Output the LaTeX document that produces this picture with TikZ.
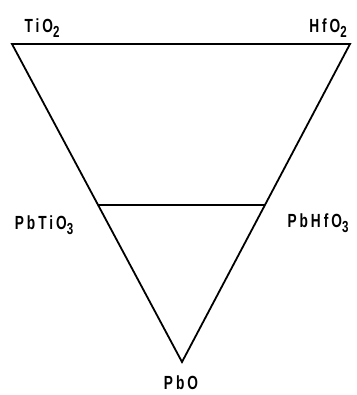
\documentclass[tikz,border=0pt]{standalone}
\usepackage{fontspec}
\usepackage{graphicx}
\setsansfont{Liberation Sans}[LetterSpace=22]
\usetikzlibrary{calc}
\tikzset{
  every picture/.style={
    every path/.style={line width=1.8pt},
  }
}
\newcommand{\chem}[1]{\scalebox{0.72}[1]{\sffamily\bfseries\fontsize{19}{19}\selectfont #1}}
\newcommand{\sub}[1]{\raisebox{-5pt}{\fontsize{16}{16}\selectfont #1}}
\tikzset{lbl/.style = {inner sep=0}}

\begin{document}
\begin{tikzpicture}[x=1pt,y=-1pt]
        \useasboundingbox (0,0) rectangle (356,395);
        \coordinate (vt) at (12,44);
        \coordinate (vh) at (350,44);
        \coordinate (vp) at (182,362);
        \coordinate (mt) at ($(vt)!0.506!(vp)$);
        \coordinate (mh) at ($(vh)!0.506!(vp)$);
        \draw[line join=miter] (vt) -- (vh) -- (vp) -- cycle;
        \draw (mt) -- (mh);
        \node[lbl] (tio) at (42,28) {\chem{TiO\sub{2}}};
        \node[lbl] (hfo) at (328,28) {\chem{HfO\sub{2}}};
        \node[lbl] (pbtio) at (44,225) {\chem{PbTiO\sub{3}}};
        \node[lbl] (pbhfo) at (318,223) {\chem{PbHfO\sub{3}}};
        \node[lbl] (pbo) at (181,383) {\chem{PbO}};
    \end{tikzpicture}
\end{document}
